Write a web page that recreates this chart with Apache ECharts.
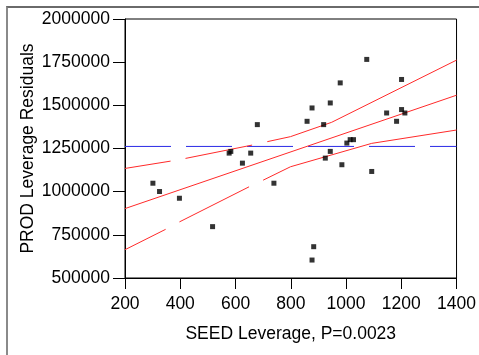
<!DOCTYPE html>
<html>
<head>
<meta charset="utf-8">
<script src="https://cdn.jsdelivr.net/npm/echarts@6/dist/echarts.min.js"></script>
<style>
html,body{margin:0;padding:0;background:#fff;}
#wrap{position:relative;width:479px;height:355px;overflow:hidden;}
#chart{position:absolute;left:0;top:0;width:479px;height:355px;}
#frame{position:absolute;left:6px;top:6px;width:480px;height:360px;border-top:2px solid #6a6a6a;border-left:2px solid #8a8a8a;pointer-events:none;}
</style>
</head>
<body>
<div id="wrap"><div id="chart"></div><div id="frame"></div></div>
<script>
// Data
const xTicks = [200, 400, 600, 800, 1000, 1200, 1400];
const yTicks = [500000, 750000, 1000000, 1250000, 1500000, 1750000, 2000000];
const seedLeverage = [301, 325, 397, 517, 577, 583, 625, 655, 679, 739, 859, 877, 883, 877, 919, 925, 943, 943, 979, 985, 1003, 1015, 1027, 1075, 1093, 1147, 1183, 1201, 1201, 1213];
const prodResiduals = [1049000, 1000800, 961900, 797500, 1223300, 1233200, 1165200, 1223300, 1388300, 1049000, 1407500, 1484800, 681300, 604000, 1388300, 1194300, 1513800, 1233200, 1630000, 1156000, 1281400, 1301200, 1301200, 1766000, 1117000, 1455700, 1407500, 1649800, 1475500, 1455700];
const fitX = [200, 1400];
const fitY = [902000, 1558600];
// confidence curves ('-' marks a break in the drawn line)
const upperX = [200, 365, 392, 419, 660, 688, 715, 799, 948, 1400];
const upperY = [1134500, 1176900, '-', 1192600, 1269800, '-', 1289600, 1318600, 1401700, 1761900];
const lowerX = [200, 347, 372, 397, 649, 675, 700, 799, 1093, 1400];
const lowerY = [663800, 781800, '-', 824800, 1028100, '-', 1066500, 1144300, 1279700, 1357000];
const meanY = 1262000;

const zip = (a, b) => a.map((v, i) => [v, b[i]]);
const font = '"Liberation Sans", Arial, sans-serif';
const plain = v => String(v);
const fs = 17.5;

const chart = echarts.init(document.getElementById('chart'), null, {renderer: 'canvas'});
chart.setOption({
  animation: false,
  backgroundColor: '#fff',
  grid: {left: 125, right: 21, top: 19, bottom: 77, show: true, borderColor: '#000', borderWidth: 1, backgroundColor: 'transparent'},
  xAxis: {
    type: 'value', min: xTicks[0], max: xTicks[xTicks.length - 1], interval: 200,
    name: 'SEED Leverage, P=0.0023', nameLocation: 'middle', nameGap: 47, nameMoveOverlap: false,
    nameTextStyle: {color: '#000', fontSize: fs, fontFamily: font},
    axisLine: {show: true, lineStyle: {color: '#000', width: 1}},
    axisTick: {show: true, length: 11, lineStyle: {color: '#000'}},
    axisLabel: {color: '#000', fontSize: fs, fontFamily: font, margin: 17, formatter: plain},
    splitLine: {show: false}
  },
  yAxis: {
    type: 'value', min: yTicks[0], max: yTicks[yTicks.length - 1], interval: 250000,
    name: 'PROD Leverage Residuals', nameLocation: 'middle', nameGap: 88, nameMoveOverlap: false,
    nameTextStyle: {color: '#000', fontSize: fs, fontFamily: font},
    axisLine: {show: true, lineStyle: {color: '#000', width: 1}},
    axisTick: {show: true, length: 12, lineStyle: {color: '#000'}},
    axisLabel: {color: '#000', fontSize: fs, fontFamily: font, margin: 15, formatter: plain},
    splitLine: {show: false}
  },
  series: [
    {
      type: 'line', data: zip(fitX, [meanY, meanY]), symbol: 'none', silent: true,
      lineStyle: {color: '#2a2ae6', width: 1, type: [46, 15]}, z: 2
    },
    {
      type: 'line', data: zip(fitX, fitY), symbol: 'none', silent: true,
      lineStyle: {color: '#ff2a2a', width: 1}, z: 3
    },
    {
      type: 'line', data: zip(upperX, upperY), symbol: 'none', silent: true, connectNulls: false,
      lineStyle: {color: '#ff2a2a', width: 1}, z: 3
    },
    {
      type: 'line', data: zip(lowerX, lowerY), symbol: 'none', silent: true, connectNulls: false,
      lineStyle: {color: '#ff2a2a', width: 1}, z: 3
    },
    {
      type: 'scatter', data: zip(seedLeverage, prodResiduals), symbol: 'rect', symbolSize: 5,
      itemStyle: {color: '#000'}, z: 5
    }
  ]
});
</script>
</body>
</html>
